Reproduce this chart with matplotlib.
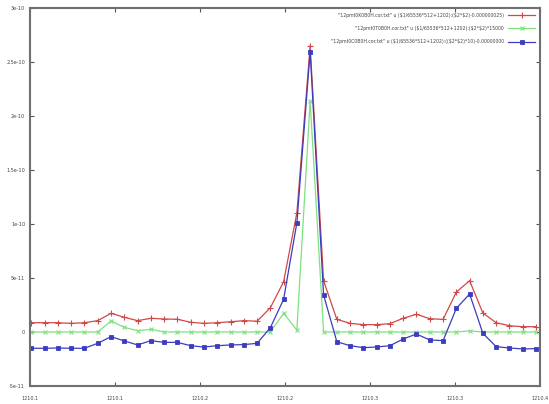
import matplotlib.pyplot as plt

# energy axis (sample positions)
x = [1210.1008, 1210.1086, 1210.1164, 1210.1242, 1210.1320, 1210.1398, 1210.1477,
     1210.1555, 1210.1633, 1210.1711, 1210.1789, 1210.1867, 1210.1945, 1210.2023,
     1210.2102, 1210.2180, 1210.2258, 1210.2336, 1210.2414, 1210.2492, 1210.2570,
     1210.2648, 1210.2727, 1210.2805, 1210.2883, 1210.2961, 1210.3039, 1210.3117,
     1210.3195, 1210.3273, 1210.3352, 1210.3430, 1210.3508, 1210.3586, 1210.3664,
     1210.3742, 1210.3820, 1210.3898, 1210.3977]

red = [8.6, 8.6, 8.6, 8.0, 8.6, 10.5, 17.3, 13.6, 10.5, 12.7, 12.0, 11.8, 9.0, 8.0,
       8.6, 9.5, 10.5, 10.0, 22.5, 46.6, 110.5, 265.0, 47.5, 11.7, 8.0, 6.8, 6.8, 7.7,
       12.7, 16.4, 12.3, 11.7, 37.0, 47.5, 17.6, 8.6, 5.8, 4.9, 4.9]
green = [0.0, 0.0, 0.0, 0.0, 0.0, 0.0, 10.2, 4.3, 1.2, 2.5, 0.0, 0.0, 0.0, 0.0,
         0.0, 0.0, 0.0, 0.0, 0.0, 17.3, 1.8, 214.0, 0.0, 0.0, 0.0, 0.0, 0.0, 0.0,
         0.0, 0.0, 0.0, 0.0, 0.0, 1.0, 0.0, 0.0, 0.0, 0.0, 0.0]
blue = [-15.1, -15.1, -14.8, -15.1, -15.1, -10.5, -4.3, -8.3, -12.0, -8.0, -9.6, -9.6,
        -12.7, -13.9, -12.7, -12.0, -11.7, -10.5, 4.0, 30.3, 101.3, 259.5, 34.3, -9.0,
        -12.7, -14.5, -13.9, -12.7, -6.5, -1.9, -7.4, -8.0, 21.9, 35.2, -1.2, -13.6,
        -14.8, -15.7, -15.4]

red = [v * 1e-12 for v in red]
green = [v * 1e-12 for v in green]
blue = [v * 1e-12 for v in blue]

labels = ['"12pmt0K0B0H.cor.txt" u ($1/65536*512+1202):($2*$2)-0.000000025)',
          '"12pmt0T0B0H.cor.txt" u ($1/65536*512+1202):($2*$2)*15000',
          '"12pmt0C0B0H.cor.txt" u ($1/65536*512+1202):(($2*$2)*10)-0.00000000']

xticks = [1210.1, 1210.15, 1210.2, 1210.25, 1210.3, 1210.35, 1210.4]
xticklabels = ['1210.1', '1210.1', '1210.2', '1210.2', '1210.3', '1210.3', '1210.4']
yticks = [-5e-11, 0, 5e-11, 1e-10, 1.5e-10, 2e-10, 2.5e-10, 3e-10]
yticklabels = ['-5e-11', '0', '5e-11', '1e-10', '1.5e-10', '2e-10', '2.5e-10', '3e-10']

fig = plt.figure(figsize=(5.49, 4.04), dpi=100)
ax = fig.add_axes([0.0546, 0.0446, 0.929, 0.9354])

ax.plot(x, red, color='#d04848', lw=0.9, marker='+', ms=4, mew=0.8, label=labels[0])
ax.plot(x, green, color='#7fe07f', lw=0.9, marker='x', ms=3, mew=0.8, label=labels[1])
ax.plot(x, blue, color='#3c3cc0', lw=0.9, marker='s', ms=2.4, mew=0.6, label=labels[2])

ax.set_xlim(1210.1, 1210.4)
ax.set_ylim(-5e-11, 3e-10)
ax.set_xticks(xticks)
ax.set_xticklabels(xticklabels)
ax.set_yticks(yticks)
ax.set_yticklabels(yticklabels)
ax.tick_params(direction='in', length=3, width=0.8, color='#555555', labelsize=3.5,
               top=True, right=True, labelcolor='#444444')
ax.tick_params(axis='x', pad=7)
for s in ax.spines.values():
    s.set_color('#707070')
    s.set_linewidth(1.5)

leg = ax.legend(loc='upper right', fontsize=3.3, frameon=False, markerfirst=False,
                handlelength=6, labelspacing=1.8, borderaxespad=0.6)
for t in leg.get_texts():
    t.set_color('#444444')

fig.savefig('out.png', dpi=100)
